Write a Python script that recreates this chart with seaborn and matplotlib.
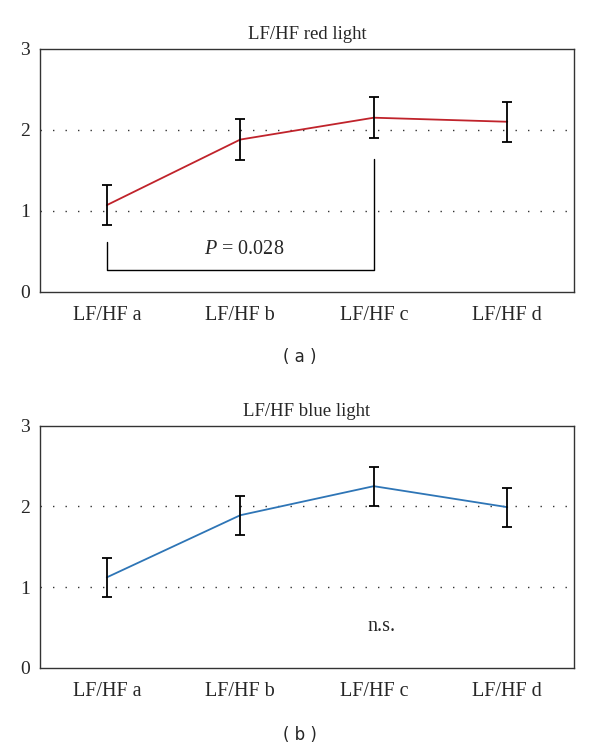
import matplotlib
matplotlib.use("Agg")
import matplotlib.pyplot as plt
import seaborn as sns
import pandas as pd

categories = ["LF/HF a", "LF/HF b", "LF/HF c", "LF/HF d"]
red_values = [1.07, 1.88, 2.15, 2.10]
red_errors = [0.25, 0.25, 0.25, 0.25]
blue_values = [1.12, 1.89, 2.25, 1.99]
blue_errors = [0.24, 0.24, 0.24, 0.24]
yticks = [0, 1, 2, 3]

sns.set_theme(style="white")
plt.rcParams['font.family'] = ['Liberation Serif', 'DejaVu Serif']
plt.rcParams['mathtext.fontset'] = 'custom'
plt.rcParams['mathtext.rm'] = 'Liberation Serif'
plt.rcParams['mathtext.it'] = 'Liberation Serif:italic'

fig = plt.figure(figsize=(6, 7.52), dpi=100)
ax1 = fig.add_axes([0.0667, 0.612, 0.89, 0.323])
ax2 = fig.add_axes([0.0667, 0.112, 0.89, 0.322])


def draw(ax, values, errors, color, title):
    df = pd.DataFrame({"cat": categories, "val": values, "x": range(len(categories))})
    sns.lineplot(data=df, x="x", y="val", ax=ax, color=color, linewidth=1.3)
    ax.errorbar(df["x"], df["val"], yerr=errors, fmt="none", ecolor="black",
                elinewidth=1.3, capsize=3.5, capthick=1.3, zorder=3)
    ax.set_xlim(-0.5, 3.5)
    ax.set_ylim(0, 3)
    ax.set_xticks(range(len(categories)))
    ax.set_xticklabels(categories, fontsize=14.5)
    ax.set_yticks(yticks)
    ax.set_yticklabels([str(t) for t in yticks], fontsize=14)
    ax.tick_params(axis="x", length=0, pad=10)
    ax.tick_params(axis="y", length=0, pad=7)
    for y in [1, 2]:
        ax.axhline(y, color="#333333", linestyle=(0, (1, 8)), linewidth=1.0, zorder=1)
    for s in ax.spines.values():
        s.set_color("#333333")
        s.set_linewidth(1.0)
    ax.set_xlabel("")
    ax.set_ylabel("")
    ax.set_title(title, fontsize=13.5, pad=7)


draw(ax1, red_values, red_errors, "#c0232b", "LF/HF red light")
draw(ax2, blue_values, blue_errors, "#2e75b6", "LF/HF blue light")

# significance bracket on top panel
ax1.plot([0, 0, 2, 2], [0.61, 0.27, 0.27, 1.64], color="black", linewidth=1.0)
ax1.text(1.03, 0.52, r"$P$ = 0.028", ha="center", va="center", fontsize=14.5)

ax2.text(2.06, 0.51, "n.s.", ha="center", va="center", fontsize=14.5)

fig.text(0.5, 0.525, "( a )", ha="center", va="center", fontsize=12, family="DejaVu Sans")
fig.text(0.5, 0.022, "( b )", ha="center", va="center", fontsize=12, family="DejaVu Sans")

fig.savefig("out.png", dpi=100, facecolor="white")
